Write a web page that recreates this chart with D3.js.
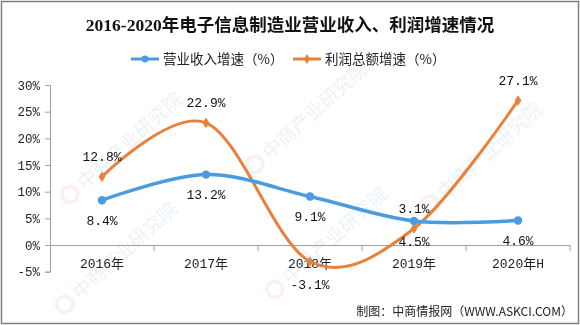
<!DOCTYPE html>
<html>
<head>
<meta charset="utf-8">
<script src="https://cdn.jsdelivr.net/npm/d3@7/dist/d3.min.js"></script>
<style>
  html, body { margin: 0; padding: 0; background: #fff; }
  svg { display: block; }
</style>
</head>
<body>
<svg id="chart" width="580" height="325"></svg>
<script>
const title = "2016-2020年电子信息制造业营业收入、利润增速情况";
const categories = ["2016年", "2017年", "2018年", "2019年", "2020年H"];
const revenueGrowth = [8.4, 13.2, 9.1, 4.5, 4.6];
const profitGrowth = [12.8, 22.9, -3.1, 3.1, 27.1];
const seriesNames = ["营业收入增速（%）", "利润总额增速（%）"];
const yTicks = [-5, 0, 5, 10, 15, 20, 25, 30];
const sourceText = "制图：中商情报网（WWW.ASKCI.COM）";
const watermarkText = "中商产业研究院";

const svg = d3.select("#chart");
const W = 580, H = 325;
const blue = "#4a9be0", orange = "#e8823a";
const monoFont = "'Liberation Mono', 'Noto Sans CJK SC', monospace";

// watermarks (kept inside the frame)
const wm = svg.append("g").attr("opacity", 0.1);
const wmPos = [[85,190],[270,160],[445,200],[80,300],[290,285]];
wmPos.forEach(([x, y]) => {
  const g = wm.append("g").attr("transform", `translate(${x},${y}) rotate(-42)`);
  g.append("circle").attr("cx", -14).attr("cy", -7).attr("r", 8)
    .attr("fill", "none").attr("stroke", "#e06060").attr("stroke-width", 3.5);
  g.append("text").attr("x", 0).attr("y", 0)
    .attr("font-family", "'Noto Sans CJK SC'").attr("font-size", 19)
    .attr("fill", "#2f6fb0").text(watermarkText);
});

// frame
svg.append("rect").attr("x", 1.5).attr("y", 1.5).attr("width", W - 3).attr("height", H - 3)
  .attr("fill", "none").attr("stroke", "#808080").attr("stroke-width", 1.5);

// title
svg.append("text").attr("x", 290).attr("y", 31).attr("text-anchor", "middle")
  .attr("font-family", "'Liberation Serif', 'Noto Sans CJK SC', serif")
  .attr("font-weight", 700).attr("font-size", 17.5).attr("fill", "#111")
  .text(title);

// scales
const x = d3.scaleBand().domain(categories).range([50, 570]);
const cx = c => x(c) + x.bandwidth() / 2;
const y = d3.scaleLinear().domain([-5, 30]).range([271.67, 85]);

const axisColor = "#a0a0a0";

// y axis
const yAxis = d3.axisLeft(y).tickValues(yTicks).tickFormat(d => d + "%").tickSizeOuter(0).tickSize(5).tickPadding(5);
const gy = svg.append("g").attr("transform", "translate(50,0)").call(yAxis);
gy.select(".domain").attr("stroke", axisColor);
gy.selectAll(".tick line").attr("stroke", axisColor);
gy.selectAll(".tick text").attr("font-family", monoFont).attr("font-size", 12.5).attr("fill", "#222");

// x axis at zero
const xAxis = d3.axisBottom(x).tickSize(0).tickSizeOuter(0).tickFormat("");
const gx = svg.append("g").attr("transform", `translate(0,${y(0)})`).call(xAxis);
gx.select(".domain").attr("stroke", axisColor);
gx.selectAll(".tick").remove();
const bounds = categories.map(c => x(c)).concat([x.range()[1]]).slice(1);
gx.selectAll("line.bt").data(bounds).enter().append("line")
  .attr("x1", d => d).attr("x2", d => d).attr("y1", 0).attr("y2", 6)
  .attr("stroke", axisColor);

// category labels
svg.append("g").selectAll("text").data(categories).enter().append("text")
  .attr("x", d => cx(d)).attr("y", 268).attr("text-anchor", "middle")
  .attr("font-family", monoFont).attr("font-size", 13).attr("fill", "#222")
  .text(d => d);

const line = d3.line().curve(d3.curveCatmullRom.alpha(0))
  .x((d, i) => cx(categories[i])).y(d => y(d));

// profit (orange)
svg.append("path").datum(profitGrowth).attr("d", line)
  .attr("fill", "none").attr("stroke", orange).attr("stroke-width", 3).attr("stroke-linecap", "round");
svg.append("g").selectAll("path").data(profitGrowth).enter().append("path")
  .attr("d", d3.symbol(d3.symbolDiamond, 40)())
  .attr("transform", (d, i) => `translate(${cx(categories[i])},${y(d)}) scale(1,0.9)`)
  .attr("fill", orange);

// revenue (blue)
svg.append("path").datum(revenueGrowth).attr("d", line)
  .attr("fill", "none").attr("stroke", blue).attr("stroke-width", 3.5).attr("stroke-linecap", "round");
svg.append("g").selectAll("circle").data(revenueGrowth).enter().append("circle")
  .attr("cx", (d, i) => cx(categories[i])).attr("cy", d => y(d)).attr("r", 4.2)
  .attr("fill", blue);

// data labels
const fmt = d => d.toFixed(1) + "%";
svg.append("g").selectAll("text").data(revenueGrowth).enter().append("text")
  .attr("x", (d, i) => cx(categories[i])).attr("y", d => y(d) + 20).attr("dy", "0.35em")
  .attr("text-anchor", "middle").attr("font-family", monoFont).attr("font-size", 13).attr("fill", "#111")
  .text(fmt);
svg.append("g").selectAll("text").data(profitGrowth).enter().append("text")
  .attr("x", (d, i) => cx(categories[i])).attr("y", d => d < 0 ? y(d) + 23 : y(d) - 20).attr("dy", "0.35em")
  .attr("text-anchor", "middle").attr("font-family", monoFont).attr("font-size", 13).attr("fill", "#111")
  .text(fmt);

// legend
const legend = [
  { name: seriesNames[0], color: blue, x: 131, sym: "circle" },
  { name: seriesNames[1], color: orange, x: 293, sym: "diamond" }
];
const lg = svg.append("g");
legend.forEach(l => {
  lg.append("line").attr("x1", l.x).attr("x2", l.x + 28).attr("y1", 59).attr("y2", 59)
    .attr("stroke", l.color).attr("stroke-width", 3);
  lg.append("path").attr("d", d3.symbol(l.sym === "circle" ? d3.symbolCircle : d3.symbolDiamond, l.sym === "circle" ? 36 : 30)())
    .attr("transform", `translate(${l.x + 14},59)`).attr("fill", l.color);
  lg.append("text").attr("x", l.x + 32).attr("y", 59).attr("dy", "0.35em")
    .attr("font-family", "'Noto Sans CJK SC', sans-serif").attr("font-size", 13.5).attr("fill", "#222")
    .text(l.name);
});

// source
svg.append("text").attr("x", 573).attr("y", 312).attr("dy", "0.35em").attr("text-anchor", "end")
  .attr("font-family", "'Noto Sans CJK SC', sans-serif").attr("font-size", 12).attr("fill", "#222")
  .text(sourceText);
</script>
</body>
</html>
